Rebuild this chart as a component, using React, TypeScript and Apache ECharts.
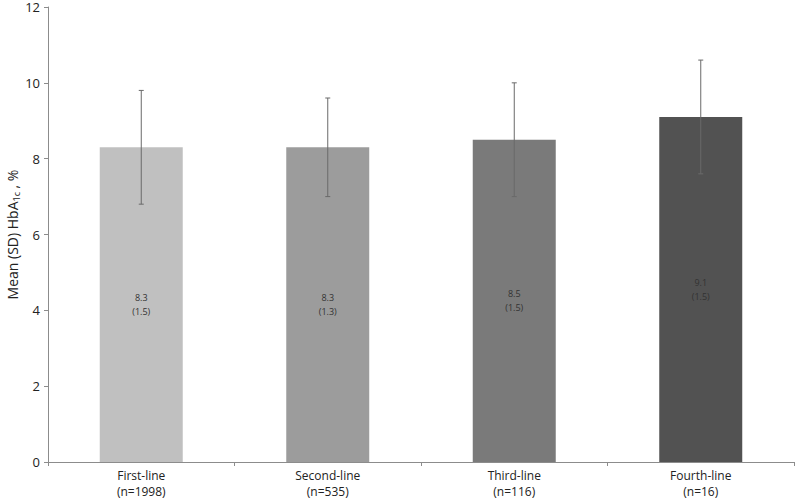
import React, { useEffect, useRef } from "react";
import * as echarts from "echarts";

const categories = ["First-line\n(n=1998)", "Second-line\n(n=535)", "Third-line\n(n=116)", "Fourth-line\n(n=16)"];
const means = [8.3, 8.3, 8.5, 9.1];
const sds = [1.5, 1.3, 1.5, 1.5];
const errLow = [6.8, 7.0, 7.0, 7.6];
const errHigh = [9.8, 9.6, 10.0, 10.6];
const barColors = ["#c0c0c0", "#9c9c9c", "#7a7a7a", "#525252"];
const yTicks = [0, 2, 4, 6, 8, 10, 12];

export default function App() {
  const ref = useRef<HTMLDivElement>(null);
  useEffect(() => {
    if (!ref.current) return;
    const chart = echarts.init(ref.current, null, { renderer: "svg" });
    const font = "Open Sans";
    chart.setOption({
      animation: false,
      grid: { left: 48, right: 3, top: 7, bottom: 38, containLabel: false, outerBoundsMode: "none" },
      xAxis: {
        type: "category",
        data: categories,
        axisLine: { lineStyle: { color: "#8c8c8c", width: 1 } },
        axisTick: { show: true, alignWithLabel: false, length: 4, lineStyle: { color: "#8c8c8c" } },
        axisLabel: { color: "#222", fontFamily: font, fontSize: 12, lineHeight: 16, margin: 5 },
      },
      yAxis: {
        type: "value",
        min: yTicks[0],
        max: yTicks[yTicks.length - 1],
        interval: 2,
        splitLine: { show: false },
        axisLine: { show: true, lineStyle: { color: "#8c8c8c", width: 1 } },
        axisTick: { show: true, length: 4, lineStyle: { color: "#8c8c8c" } },
        axisLabel: { color: "#222", fontFamily: font, fontSize: 13, margin: 8 },
        name: "{a|Mean (SD) HbA}{s|1c}{a| , %}",
        nameLocation: "middle",
        nameGap: 27,
        nameMoveOverlap: false,
        nameRotate: 90,
        nameTextStyle: {
          rich: {
            a: { fontFamily: font, fontSize: 14, color: "#222" },
            s: { fontFamily: font, fontSize: 9, color: "#222", padding: [8, 0, 0, 0] },
          },
        },
      },
      series: [
        {
          type: "bar",
          barWidth: "44.5%",
          data: means.map((v, i) => ({ value: v, itemStyle: { color: barColors[i] } })),
          label: {
            show: true,
            position: "inside",
            fontFamily: font,
            fontSize: 9,
            lineHeight: 14,
            color: "#333",
            formatter: (p: any) => `${means[p.dataIndex].toFixed(1)}\n(${sds[p.dataIndex].toFixed(1)})`,
          },
        },
        {
          type: "custom",
          z: 10,
          data: errLow.map((lo, i) => [i, lo, errHigh[i]]),
          renderItem: (params: any, api: any) => {
            const x = api.value(0);
            const lo = api.coord([x, api.value(1)]);
            const hi = api.coord([x, api.value(2)]);
            const cap = 2.5;
            const style = { stroke: "#6a6a6a", lineWidth: 1, fill: "none" };
            return {
              type: "group",
              children: [
                { type: "line", shape: { x1: lo[0], y1: lo[1], x2: hi[0], y2: hi[1] }, style },
                { type: "line", shape: { x1: hi[0] - cap, y1: hi[1], x2: hi[0] + cap, y2: hi[1] }, style },
                { type: "line", shape: { x1: lo[0] - cap, y1: lo[1], x2: lo[0] + cap, y2: lo[1] }, style },
              ],
            };
          },
        },
      ],
    });
    return () => chart.dispose();
  }, []);
  return <div ref={ref} style={{ width: 797, height: 500, position: "fixed", left: 0, top: 0, background: "#fff" }} />;
}
